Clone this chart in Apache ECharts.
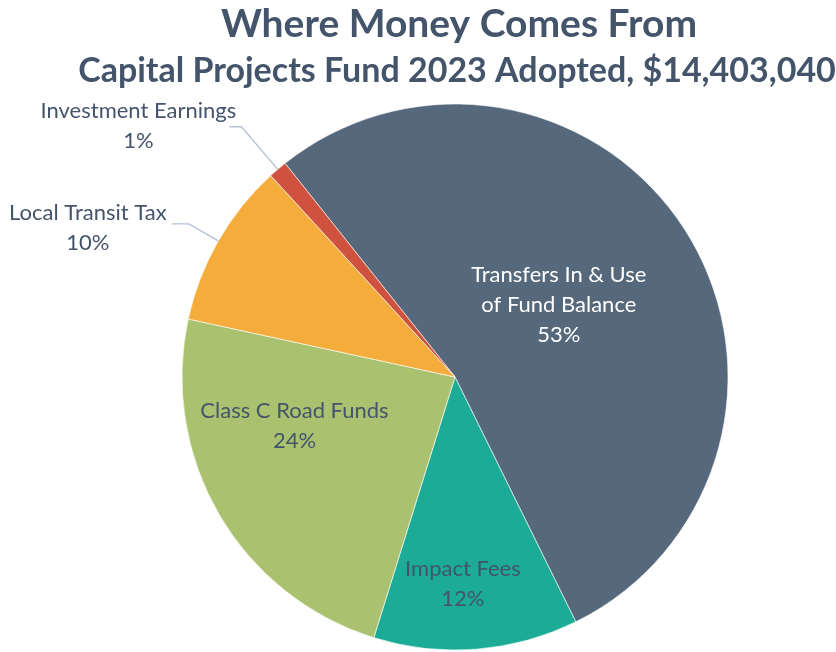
<!DOCTYPE html>
<html>
<head>
<meta charset="utf-8">
<script src="https://cdn.jsdelivr.net/npm/echarts@6/dist/echarts.min.js"></script>
<style>
  html, body { margin: 0; padding: 0; background: #fff; }
  #container { width: 836px; height: 652px; }
</style>
</head>
<body>
<div id="container"></div>
<script>
var dom = document.getElementById('container');
var myChart = echarts.init(dom, null, { renderer: 'canvas' });

// data (share of total, %)
var categories = ['Transfers In & Use\nof Fund Balance', 'Impact Fees', 'Class C Road Funds', 'Local Transit Tax', 'Investment Earnings'];
var shares = [53.4, 12.1, 23.6, 9.8, 1.1];

var colors = ['#56687C', '#1BAB96', '#AAC270', '#F4AC3B', '#CE523D'];
var labelColors = ['#ffffff', '#44546A', '#44546A', '#44546A', '#44546A'];
var outsideLbl = [false, false, false, true, true];
// nudges for labels (Excel "best fit" spots)
var labelShift = [[-14, 3], [-3, 68], [-40, -21], [0, -3], [12, -8]];
var lineLen = [[0, 0], [0, 0], [0, 0], [34, 17], [56, 12]];

var FONT = 'Lato, "Open Sans", sans-serif';
var LBL_SIZE = 22;

var ctx = document.createElement('canvas').getContext('2d');
ctx.font = LBL_SIZE + 'px ' + FONT;
function textW(s) { return Math.ceil(ctx.measureText(s).width); }

var data = categories.map(function (name, i) {
    var item = {
        name: name,
        value: shares[i],
        itemStyle: { color: colors[i] },
        label: { color: labelColors[i] }
    };
    if (outsideLbl[i]) {
        var w = textW(name);
        var rs = { width: w, align: 'center', fontFamily: FONT, fontSize: LBL_SIZE, lineHeight: 30, color: labelColors[i] };
        item.label = {
            position: 'outside',
            color: labelColors[i],
            padding: [14, 0, 0, 0],
            formatter: function (p) {
                return '{n|' + p.name + '}\n{n|' + Math.round(p.percent) + '%}';
            },
            rich: { n: rs }
        };
        item.labelLine = { show: true, length: lineLen[i][0], length2: lineLen[i][1] };
    } else {
        item.labelLine = { show: false };
    }
    return item;
});

var option = {
    backgroundColor: '#ffffff',
    animation: false,
    title: [{
        text: 'Where Money Comes From',
        left: 454, top: 0, textAlign: 'center',
        textStyle: { fontFamily: FONT, fontWeight: 'bold', fontSize: 39, color: '#44546A' }
    }, {
        text: 'Capital Projects Fund 2023 Adopted, $14,403,040',
        left: 452, top: 49, textAlign: 'center',
        textStyle: { fontFamily: FONT, fontWeight: 'bold', fontSize: 34, color: '#44546A' }
    }],
    series: [{
        type: 'pie',
        center: [455, 377],
        radius: 273,
        startAngle: 128.5,
        clockwise: true,
        avoidLabelOverlap: false,
        itemStyle: { borderColor: '#ffffff', borderWidth: 0.6 },
        label: {
            show: true,
            position: 'inside',
            fontFamily: FONT,
            fontSize: LBL_SIZE,
            lineHeight: 30,
            formatter: function (p) { return p.name + '\n' + Math.round(p.percent) + '%'; }
        },
        labelLine: { lineStyle: { color: '#B4C2D3', width: 1.3 }, smooth: false },
        labelLayout: function (p) {
            var s = labelShift[p.dataIndex];
            return { dx: s[0], dy: s[1] };
        },
        emphasis: { disabled: true },
        data: data
    }]
};

myChart.setOption(option);
</script>
</body>
</html>
